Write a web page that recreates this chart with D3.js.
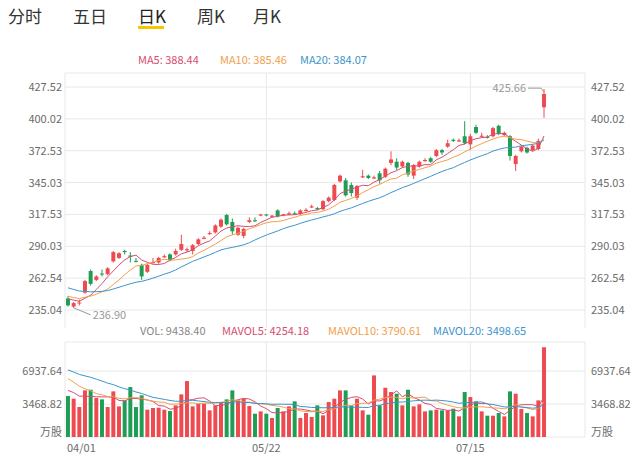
<!DOCTYPE html>
<html><head><meta charset="utf-8">
<script src="https://cdn.jsdelivr.net/npm/d3@7"></script>
<style>body{margin:0;background:#fff;font-family:"Noto Sans CJK SC","Noto Sans",sans-serif}</style>
</head><body><svg id="c" width="640" height="457"></svg>
<script>
const opens=[245,238,241,250,268.7,261,266.5,266,277,280,286,282,277.5,274,268,275.5,276,280.5,283,283,287,286.5,286,292,296.5,300.5,302,307,317,311,300,299,311,312.5,316.5,317.5,315.5,321,316.5,317.5,318.5,318,320.5,323.5,323,322,329,330,346,347,343,332,349.5,351,348.5,353,350,362,363,359,362,351,359,363.5,366,368,373,376,382,380.5,385,378,393,384.5,384.5,385,394,386,385,361,372,375,373,374,410];
const closes=[239,241,241.5,260,257.6,264,266,271,285,284,285,281,277,264,274,276.5,280,281.5,278,286,292,287.5,291,296,297.5,301.5,308,313,309,303,306,305,312.5,312,317.5,317,316.5,316,317.5,318.5,318,321,321.5,324.5,322,329,332,343,351,334,336,342,350.5,349,349.5,347,357,365,358,363,352,360,363,364.5,363,373,371,379,381,381.5,379,385,388,385.5,384,392,387,388,368,368,376,371,377,381,421.5];
const highs=[247,242,244,261,270,265,270,272,286,285,287,285,280,275,275,280,281,283,284,288,300,289,292,297,299,303,309,314,318,314,307,306,315,315,318,318,317,322,318,320,320,322,323,326,324,330,333,344,352,349,345,343,356,352,351,355,358,372,366,364,363,361,364,366,367,374,374,382,383,383,398,387,395,388,386,393,395,389,386,369,377,376,378,383,425.66];
const lows=[238,236.9,239,249,256,260,264,265,276,279,283,276,276,261,267,275,275,280,277,282,286,285,283,291,296,300,301,306,308,300,299,297,310,311,316,316,315,315,316,317,317,317,320,323,321,321,328,329,345,333,333,330,349,348,348,344,349,360,356,358,350,348,358,363,362,367,369,375,380,380,378,373,387,384,383,384,386,385,364,355,371,370,372,373,401];
const volumes=[4305,4025,3150,4900,4970,4095,3955,3150,4795,3220,3850,5250,3150,4375,2870,3045,3080,2870,2730,3325,4480,5880,3220,3500,3500,2800,3325,3570,3955,4900,3850,4025,3255,2450,2695,2450,1995,3045,2695,3220,3745,1995,2520,2100,3325,2275,3675,4025,4900,4900,3325,4025,2800,2345,6475,3325,5180,4725,4550,3325,4970,3220,3430,2695,2800,2870,2800,2800,2975,2170,4725,4200,3745,2695,2240,2240,2520,2170,4795,4550,2940,2520,2170,3850,9438.4];
const priorCloses=[270,268,266,265,262,260,258,257,255,254,252,250,249,248,247,246,247,246,245];
const priorVolumes=[8500,8200,8000,7900,8100,7800,7600,7900,8000,7700,7800,7500,7400,7200,7000,5200,5000,4900,5100];
const priceTicks=[235.04,262.54,290.03,317.53,345.03,372.53,400.02,427.52];
const volTicks=[3468.82,6937.64];
const dateLabels=[[0,"04/01"],[35,"05/22"],[71,"07/15"]];
const tabs=["分时","五日","日K","周K","月K"];

const RED="#ee4a4f",GREEN="#1f9d55",C5="#d64d6f",C10="#f2a04e",C20="#3d95cc",GRID="#e8e8e8",TXT="#6b6b6b";
const svg=d3.select("#c");
const N=closes.length;
const x=d3.scaleBand().domain(d3.range(N)).range([66,546]).paddingInner(0.3);
const cx=i=>x(i)+x.bandwidth()/2;
const y=d3.scaleLinear().domain([235.04,427.52]).range([310,87]);
const yv=d3.scaleLinear().domain([0,3468.82]).range([437,404]);

// tabs
const tabX=[8,73,138,197,253];
tabs.forEach((t,i)=>svg.append("text").attr("x",tabX[i]).attr("y",23).attr("font-size",17).attr("fill",i==2?"#222":"#333").text(t));
svg.append("rect").attr("x",138).attr("y",26).attr("width",26).attr("height",3).attr("fill","#f7c600");

// grid
const gl=svg.append("g").attr("stroke",GRID).attr("stroke-width",1);
priceTicks.forEach(v=>gl.append("line").attr("x1",65).attr("x2",585).attr("y1",y(v)).attr("y2",y(v)));
[0,...volTicks].forEach(v=>gl.append("line").attr("x1",65).attr("x2",585).attr("y1",yv(v)).attr("y2",yv(v)));
gl.append("line").attr("x1",65).attr("x2",585).attr("y1",73).attr("y2",73);
gl.append("line").attr("x1",65).attr("x2",585).attr("y1",342).attr("y2",342);
[65,585].forEach(xx=>{gl.append("line").attr("x1",xx).attr("x2",xx).attr("y1",73).attr("y2",328);gl.append("line").attr("x1",xx).attr("x2",xx).attr("y1",342).attr("y2",437);});
dateLabels.slice(1).forEach(([i])=>{gl.append("line").attr("x1",cx(i)).attr("x2",cx(i)).attr("y1",73).attr("y2",328);gl.append("line").attr("x1",cx(i)).attr("x2",cx(i)).attr("y1",342).attr("y2",437);});

// axis labels
const fmt=v=>v.toFixed(2);
priceTicks.forEach(v=>{
 svg.append("text").attr("x",62).attr("y",y(v)+4).attr("text-anchor","end").attr("font-size",11).attr("fill",TXT).text(fmt(v));
 svg.append("text").attr("x",591).attr("y",y(v)+4).attr("font-size",11).attr("fill",TXT).text(fmt(v));
});
volTicks.forEach(v=>{
 svg.append("text").attr("x",62).attr("y",yv(v)+4).attr("text-anchor","end").attr("font-size",11).attr("fill",TXT).text(fmt(v));
 svg.append("text").attr("x",591).attr("y",yv(v)+4).attr("font-size",11).attr("fill",TXT).text(fmt(v));
});
svg.append("text").attr("x",62).attr("y",436).attr("text-anchor","end").attr("font-size",11).attr("fill",TXT).text("万股");
svg.append("text").attr("x",591).attr("y",436).attr("font-size",11).attr("fill",TXT).text("万股");
dateLabels.forEach(([i,t],k)=>svg.append("text").attr("x",k==0?67:cx(i)).attr("y",452).attr("text-anchor",k==0?"start":"middle").attr("font-size",11).attr("fill",TXT).text(t));

// MAs
function ma(arr,prior,n){const all=prior.concat(arr);return arr.map((_,i)=>{const j=i+prior.length;const s=all.slice(Math.max(0,j-n+1),j+1);return d3.mean(s);});}
const line=d3.line().x((d,i)=>cx(i)).y(d=>y(d));
const vline=d3.line().x((d,i)=>cx(i)).y(d=>yv(d));
// candles
const col=i=>closes[i]>=opens[i]?RED:GREEN;
const cg=svg.append("g");
d3.range(N).forEach(i=>{
 cg.append("line").attr("x1",cx(i)).attr("x2",cx(i)).attr("y1",y(highs[i])).attr("y2",y(lows[i])).attr("stroke",col(i)).attr("stroke-width",1);
 const t=Math.max(opens[i],closes[i]),b=Math.min(opens[i],closes[i]);
 cg.append("rect").attr("x",x(i)).attr("width",x.bandwidth()).attr("y",y(t)).attr("height",Math.max(1,y(b)-y(t))).attr("fill",col(i));
 svg.append("rect").attr("x",x(i)).attr("width",x.bandwidth()).attr("y",yv(volumes[i])).attr("height",yv(0)-yv(volumes[i])).attr("fill",col(i));
});
[[5,C5],[10,C10],[20,C20]].forEach(([n,c])=>{
 svg.append("path").attr("d",line(ma(closes,priorCloses,n))).attr("fill","none").attr("stroke",c).attr("stroke-width",1);
 svg.append("path").attr("d",vline(ma(volumes,priorVolumes,n))).attr("fill","none").attr("stroke",c).attr("stroke-width",1);
});

// legends
const lg=(xx,yy,c,t)=>svg.append("text").attr("x",xx).attr("y",yy).attr("font-size",11).attr("fill",c).text(t);
lg(138,64,C5,"MA5: 388.44");lg(220,64,C10,"MA10: 385.46");lg(300,64,C20,"MA20: 384.07");
lg(140,335,"#888","VOL: 9438.40");lg(222,335,C5,"MAVOL5: 4254.18");lg(328,335,C10,"MAVOL10: 3790.61");lg(433,335,C20,"MAVOL20: 3498.65");

// max/min markers
const iMax=d3.maxIndex(highs),iMin=d3.minIndex(lows);
svg.append("polyline").attr("points",`${cx(iMax)},${y(highs[iMax])+3} ${cx(iMax)-3},${y(highs[iMax])-1} ${cx(iMax)-16},${y(highs[iMax])-1}`).attr("fill","none").attr("stroke","#999");
svg.append("text").attr("x",cx(iMax)-18).attr("y",y(highs[iMax])+3).attr("text-anchor","end").attr("font-size",11).attr("fill","#999").text(highs[iMax].toFixed(2));
svg.append("polyline").attr("points",`${cx(iMin)},${y(lows[iMin])} ${cx(iMin)+17},${y(lows[iMin])+7}`).attr("fill","none").attr("stroke","#999");
svg.append("text").attr("x",cx(iMin)+19).attr("y",y(lows[iMin])+11).attr("font-size",11).attr("fill","#999").text(lows[iMin].toFixed(2));
</script></body></html>
